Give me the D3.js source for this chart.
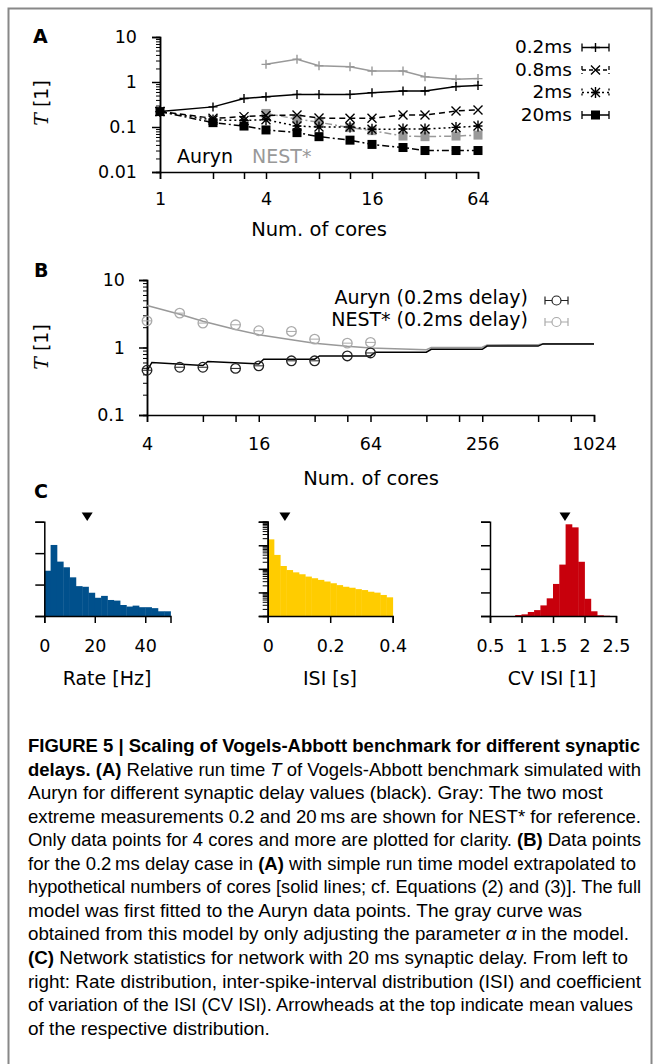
<!DOCTYPE html>
<html>
<head>
<meta charset="utf-8">
<script src="https://cdn.jsdelivr.net/npm/d3@7"></script>
<style>
  body { margin: 0; background: #fff; }
  svg text { font-family: "DejaVu Sans", sans-serif; }
</style>
</head>
<body>
<svg id="fig" width="660" height="1064"></svg>
<script>
// ---- panel A: relative run time vs cores, different delays ----
const coresA = [1, 2, 3, 4, 6, 8, 12, 16, 24, 32, 48, 64];
const auryn02 = [0.22, 0.28, 0.43, 0.47, 0.53, 0.53, 0.53, 0.58, 0.63, 0.63, 0.79, 0.84];
const auryn08 = [0.22, 0.156, 0.17, 0.18, 0.185, 0.158, 0.156, 0.156, 0.185, 0.185, 0.227, 0.24];
const auryn2 = [0.22, 0.143, 0.14, 0.145, 0.105, 0.10, 0.10, 0.089, 0.09, 0.09, 0.098, 0.105];
const auryn20 = [0.22, 0.125, 0.105, 0.086, 0.075, 0.061, 0.051, 0.041, 0.035, 0.030, 0.030, 0.030];
const coresNest = [4, 6, 8, 12, 16, 24, 32, 48, 64];
const nest02 = [2.47, 3.2, 2.3, 2.19, 1.76, 1.76, 1.31, 1.15, 1.19];
const nest20 = [0.20, 0.15, 0.127, 0.097, 0.083, 0.063, 0.061, 0.063, 0.066];
const delayLabels = ["0.2ms", "0.8ms", "2ms", "20ms"];
const ticksA = [1, 2, 3, 4, 8, 12, 16, 32, 48, 64];
const labelsA = [1, 4, 16, 64];

// ---- panel B: 0.2ms data with run time model ----
const coresB = [4, 6, 8, 12, 16, 24, 32, 48, 64];
const aurynB = [0.46, 0.51, 0.51, 0.49, 0.535, 0.635, 0.635, 0.75, 0.83];
const nestB = [2.48, 3.23, 2.3, 2.17, 1.77, 1.73, 1.33, 1.16, 1.19];
const aurynModel = [[4, 0.45], [4.25, 0.6], [8, 0.54], [8.5, 0.62], [16, 0.57], [17, 0.67], [32, 0.67],
  [34, 0.75], [64, 0.75], [68, 0.85], [128, 0.85], [136, 0.94], [256, 0.94], [272, 1.05],
  [512, 1.05], [544, 1.13], [1024, 1.13]];
const nestModel = [[4, 4.2], [6, 3.1], [8, 2.45], [12, 1.85], [16, 1.55], [24, 1.3], [32, 1.16],
  [48, 1.04], [64, 0.98], [128, 0.93], [136, 1.0], [256, 1.01], [272, 1.09], [512, 1.1],
  [544, 1.14], [1024, 1.14]];
const ticksB = [4, 8, 12, 16, 32, 48, 64, 128, 192, 256, 512, 768, 1024];
const labelsB = [4, 16, 64, 256, 1024];
const legendB = ["Auryn (0.2ms delay)", "NEST* (0.2ms delay)"];

// ---- panel C: network statistics (20 ms delay) ----
const rateBins = [0, 2.5, 5, 7.5, 10, 12.5, 15, 17.5, 20, 22.5, 25, 27.5, 30, 32.5, 35, 37.5, 40, 42.5, 45, 47.5];
const rateCounts = [1.44, 2.26, 1.73, 1.55, 1.23, 0.95, 0.93, 0.74, 0.58, 0.64, 0.51, 0.49, 0.35, 0.30, 0.33, 0.28, 0.28, 0.25, 0.15, 0.15];
const isiBins = [0, 0.02, 0.04, 0.06, 0.08, 0.1, 0.12, 0.14, 0.16, 0.18, 0.2, 0.22, 0.24, 0.26, 0.28, 0.3, 0.32, 0.34, 0.36, 0.38];
const isiCounts = [1780, 390, 132, 89, 71, 59, 47, 40, 34, 29, 24.5, 20.4, 17.4, 15.8, 13.8, 12.6, 10.7, 9.8, 7.8, 6.2];
const cvBins = [0.5, 0.6, 0.7, 0.8, 0.9, 1.0, 1.1, 1.2, 1.3, 1.4, 1.5, 1.6, 1.7, 1.8, 1.9, 2.0, 2.1, 2.2, 2.3, 2.4];
const cvCounts = [0, 0, 0, 0, 0.04, 0.07, 0.17, 0.25, 0.45, 0.75, 1.36, 2.18, 3.89, 3.76, 2.30, 0.73, 0.20, 0.03, 0.01, 0];
const means = [17, 0.055, 1.69];

// ---- caption (one entry per printed line) ----
const caption = [
  [["FIGURE 5 | Scaling of Vogels-Abbott benchmark for different synaptic", "b"]],
  [["delays. (A)", "b"], [" Relative run time ", ""], ["T", "i"], [" of Vogels-Abbott benchmark simulated with", ""]],
  [["Auryn for different synaptic delay values (black). Gray: The two most", ""]],
  [["extreme measurements 0.2 and 20\u2009ms are shown for NEST* for reference.", ""]],
  [["Only data points for 4 cores and more are plotted for clarity. ", ""], ["(B)", "b"], [" Data points", ""]],
  [["for the 0.2\u2009ms delay case in ", ""], ["(A)", "b"], [" with simple run time model extrapolated to", ""]],
  [["hypothetical numbers of cores [solid lines; cf. Equations (2) and (3)]. The full", ""]],
  [["model was first fitted to the Auryn data points. The gray curve was", ""]],
  [["obtained from this model by only adjusting the parameter ", ""], ["\u03b1", "i"], [" in the model.", ""]],
  [["(C)", "b"], [" Network statistics for network with 20 ms synaptic delay. From left to", ""]],
  [["right: Rate distribution, inter-spike-interval distribution (ISI) and coefficient", ""]],
  [["of variation of the ISI (CV ISI). Arrowheads at the top indicate mean values", ""]],
  [["of the respective distribution.", ""]]
];
// printed length of the caption lines that are fitted to the margin (0 = natural)
const captionFit = [612, 613, 0, 613, 613, 608, 613, 0, 601, 600, 613, 605, 0];

const svg = d3.select("#fig");
const gray = "#999";

svg.append("rect")
  .attr("x", 8.5).attr("y", 8.5)
  .attr("width", 643).attr("height", 1090)
  .attr("fill", "none").attr("stroke", "#888").attr("stroke-width", 2);

function logTicks(lo, hi) {
  const t = [];
  for (let e = lo; e < hi; e++) for (let k = 1; k < 10; k++) t.push(+(k * Math.pow(10, e)).toPrecision(3));
  t.push(Math.pow(10, hi));
  return t;
}

function styleAxis(g, fs) {
  g.attr("font-family", "DejaVu Sans").attr("font-size", fs);
  g.select(".domain").attr("stroke", "#000").attr("stroke-width", 1.5);
  g.selectAll(".tick line").attr("stroke", "#000").attr("stroke-width", 1.5);
  g.selectAll(".tick text").attr("fill", "#000");
}

function yLabel(x, y) {
  const t = svg.append("text")
    .attr("transform", `translate(${x},${y}) rotate(-90)`)
    .attr("text-anchor", "middle")
    .attr("font-size", 19);
  t.append("tspan").attr("font-family", "DejaVu Serif").attr("font-style", "italic").text("T");
  t.append("tspan").text(" [1]");
}

function panelLetter(s, x, y) {
  svg.append("text").attr("x", x).attr("y", y)
    .attr("font-family", "Liberation Sans").attr("font-weight", "bold").attr("font-size", 19)
    .text(s);
}

// marker shapes
function marker(g, kind, x, y, color) {
  const s = 4.5;
  if (kind === "plus") {
    g.append("path").attr("d", `M${x - s},${y}H${x + s}M${x},${y - s}V${y + s}`)
      .attr("stroke", color).attr("stroke-width", 1.4);
  } else if (kind === "cross") {
    g.append("path").attr("d", `M${x - s},${y - s}L${x + s},${y + s}M${x - s},${y + s}L${x + s},${y - s}`)
      .attr("stroke", color).attr("stroke-width", 1.4);
  } else if (kind === "star") {
    g.append("path").attr("d", `M${x - s},${y - s}L${x + s},${y + s}M${x - s},${y + s}L${x + s},${y - s}M${x},${y - s - 1}V${y + s + 1}M${x - s},${y}H${x + s}`)
      .attr("stroke", color).attr("stroke-width", 1.4);
  } else if (kind === "square") {
    g.append("rect").attr("x", x - 4.5).attr("y", y - 4.5).attr("width", 9).attr("height", 9)
      .attr("fill", color);
  }
}

// ================= Panel A =================
const xA = d3.scaleLog().base(2).domain([1, 64]).range([160, 478]);
const yA = d3.scaleLog().domain([0.01, 10]).range([172, 37]);

panelLetter("A", 33, 43);

svg.append("g").attr("transform", "translate(160,0)")
  .call(d3.axisLeft(yA).tickValues(logTicks(-2, 1)).tickSize(4).tickFormat(""))
  .call(g => { styleAxis(g, 17); g.selectAll(".tick line").attr("stroke-width", 1); });
svg.append("g").attr("transform", "translate(160,0)")
  .call(d3.axisLeft(yA).tickValues([0.01, 0.1, 1, 10]).tickSize(8).tickPadding(15).tickFormat(d => String(d)))
  .call(g => styleAxis(g, 17.5));
svg.append("g").attr("transform", "translate(0,172)")
  .call(d3.axisBottom(xA).tickValues(ticksA).tickSize(7).tickPadding(14)
    .tickFormat(d => labelsA.includes(d) ? d : ""))
  .call(g => styleAxis(g, 17.5));

yLabel(48, 103);
svg.append("text").attr("x", 319).attr("y", 236).attr("text-anchor", "middle")
  .attr("font-size", 19.5).text("Num. of cores");

const lineA = d3.line().x(d => xA(d[0])).y(d => yA(d[1]));
const seriesA = [
  { x: coresNest, y: nest02, color: gray, dash: null, m: "plus" },
  { x: coresNest, y: nest20, color: gray, dash: "7,3,2,3", m: "square" },
  { x: coresA, y: auryn02, color: "#000", dash: null, m: "plus" },
  { x: coresA, y: auryn08, color: "#000", dash: "6,4", m: "cross" },
  { x: coresA, y: auryn2, color: "#000", dash: "2,3", m: "star" },
  { x: coresA, y: auryn20, color: "#000", dash: "7,3,2,3", m: "square" }
];
const gA = svg.append("g");
seriesA.forEach(s => {
  const pts = s.x.map((c, i) => [c, s.y[i]]);
  gA.append("path").attr("d", lineA(pts)).attr("fill", "none")
    .attr("stroke", s.color).attr("stroke-width", 1.5)
    .attr("stroke-dasharray", s.dash);
  pts.forEach(p => marker(gA, s.m, xA(p[0]), yA(p[1]), s.color));
});

svg.append("text").attr("x", 177).attr("y", 163).attr("font-size", 19).text("Auryn");
svg.append("text").attr("x", 252).attr("y", 163).attr("font-size", 19).attr("fill", gray).text("NEST*");

// legend A
const legKinds = [["plus", null], ["cross", "4,3"], ["star", "2,3"], ["square", null]];
delayLabels.forEach((lab, i) => {
  const yb = 53 + i * 22.5;
  svg.append("text").attr("x", 572).attr("y", yb).attr("text-anchor", "end")
    .attr("font-size", 18.5).text(lab);
  const ym = yb - 5.5;
  svg.append("path").attr("d", `M582,${ym}H609M582,${ym - 4}V${ym + 4}M609,${ym - 4}V${ym + 4}`)
    .attr("stroke", "#000").attr("stroke-width", 1.3).attr("fill", "none")
    .attr("stroke-dasharray", legKinds[i][1]);
  marker(svg, legKinds[i][0], 595.5, ym, "#000");
});

// ================= Panel B =================
const xB = d3.scaleLog().base(2).domain([4, 1024]).range([147, 594]);
const yB = d3.scaleLog().domain([0.1, 10]).range([415, 280]);

panelLetter("B", 34, 277);

svg.append("g").attr("transform", "translate(147,0)")
  .call(d3.axisLeft(yB).tickValues(logTicks(-1, 1)).tickSize(4).tickFormat(""))
  .call(g => { styleAxis(g, 17); g.selectAll(".tick line").attr("stroke-width", 1); });
svg.append("g").attr("transform", "translate(147,0)")
  .call(d3.axisLeft(yB).tickValues([0.1, 1, 10]).tickSize(8).tickPadding(14).tickFormat(d => String(d)))
  .call(g => styleAxis(g, 17.5));
svg.append("g").attr("transform", "translate(0,415)")
  .call(d3.axisBottom(xB).tickValues(ticksB).tickSize(7).tickPadding(16)
    .tickFormat(d => labelsB.includes(d) ? d : ""))
  .call(g => styleAxis(g, 17.5));

yLabel(48, 347);
svg.append("text").attr("x", 371).attr("y", 485).attr("text-anchor", "middle")
  .attr("font-size", 19.5).text("Num. of cores");

const lineB = d3.line().x(d => xB(d[0])).y(d => yB(d[1]));
svg.append("path").attr("d", lineB(nestModel)).attr("fill", "none")
  .attr("stroke", gray).attr("stroke-width", 1.5);
svg.append("path").attr("d", lineB(aurynModel)).attr("fill", "none")
  .attr("stroke", "#000").attr("stroke-width", 1.5);

function circleMark(g, x, y, color) {
  g.append("circle").attr("cx", x).attr("cy", y).attr("r", 4.8)
    .attr("fill", "none").attr("stroke", color).attr("stroke-width", 1.3);
  g.append("path").attr("d", `M${x - 4.8},${y}H${x + 4.8}`)
    .attr("stroke", color).attr("stroke-width", 1);
}
const gB = svg.append("g");
coresB.forEach((c, i) => circleMark(gB, xB(c), yB(nestB[i]), "#aaa"));
coresB.forEach((c, i) => circleMark(gB, xB(c), yB(aurynB[i]), "#222"));

legendB.forEach((lab, i) => {
  const yb = 304 + i * 21.5;
  const col = i === 0 ? "#222" : "#aaa";
  svg.append("text").attr("x", 528).attr("y", yb).attr("text-anchor", "end")
    .attr("font-size", 19).text(lab);
  const ym = yb - 3.5;
  svg.append("path").attr("d", `M545,${ym}H568M545,${ym - 4}V${ym + 4}M568,${ym - 4}V${ym + 4}`)
    .attr("stroke", col).attr("stroke-width", 1.2).attr("fill", "none");
  svg.append("circle").attr("cx", 556.5).attr("cy", ym).attr("r", 4.5)
    .attr("fill", "#fff").attr("stroke", col).attr("stroke-width", 1.2);
});

// ================= Panel C =================
panelLetter("C", 34, 498);

const hists = [
  { bins: rateBins, counts: rateCounts, w: 2.5, dom: [0, 50], rng: [44.3, 170.5], color: "#00508c",
    y: d3.scaleLinear().domain([0, 3]).range([616, 521.7]), yt: [0, 1, 2, 3], xt: [0, 20, 40],
    title: "Rate [Hz]", tx: 107 },
  { bins: isiBins, counts: isiCounts, w: 0.02, dom: [0, 0.4], rng: [267.7, 392.7], color: "#ffcc00",
    y: d3.scaleLog().domain([1, 1e4]).range([616, 521.7]), yt: [1, 10, 100, 1000, 10000], xt: [0, 0.2, 0.4],
    title: "ISI [s]", tx: 330, log: true },
  { bins: cvBins, counts: cvCounts, w: 0.1, dom: [0.5, 2.5], rng: [490, 616], color: "#c8000c",
    y: d3.scaleLinear().domain([0, 4]).range([616, 521.7]), yt: [0, 1, 2, 3, 4], xt: [0.5, 1, 1.5, 2, 2.5],
    title: "CV ISI [1]", tx: 552 }
];

hists.forEach((h, k) => {
  const x = d3.scaleLinear().domain(h.dom).range(h.rng);
  const g = svg.append("g");
  const base = h.y.range()[0];
  const cells = h.bins.map((b, i) => ({ b, c: h.counts[i] })).filter(d => d.c > 0);
  g.selectAll("rect").data(cells)
    .join("rect")
    .attr("x", d => x(d.b))
    .attr("width", d => x(d.b + h.w) - x(d.b) + 0.4)
    .attr("y", d => h.y(d.c))
    .attr("height", d => base - h.y(d.c))
    .attr("fill", h.color);

  if (h.log) {
    svg.append("g").attr("transform", `translate(${h.rng[0]},0)`)
      .call(d3.axisLeft(h.y).tickValues(logTicks(0, 4)).tickSize(5).tickFormat(""))
      .call(gg => { styleAxis(gg, 17); gg.selectAll(".tick line").attr("stroke-width", 1); });
  }
  svg.append("g").attr("transform", `translate(${h.rng[0]},0)`)
    .call(d3.axisLeft(h.y).tickValues(h.yt).tickSize(9).tickFormat(""))
    .call(gg => styleAxis(gg, 17));
  svg.append("g").attr("transform", "translate(0,616)")
    .call(d3.axisBottom(x).tickValues(h.xt).tickSize(7).tickPadding(17).tickFormat(d => d))
    .call(gg => styleAxis(gg, 17.5));

  // mean arrowhead
  const mx = x(means[k]);
  svg.append("path").attr("d", `M${mx - 5.5},512.5L${mx + 5.5},512.5L${mx},521Z`).attr("fill", "#000");

  svg.append("text").attr("x", h.tx).attr("y", 685).attr("text-anchor", "middle")
    .attr("font-size", 19).text(h.title);
});

// ================= Caption =================
const cap = svg.append("g");
const capWidth = 613;
caption.forEach((line, i) => {
  const t = cap.append("text").attr("x", 28).attr("y", 752 + i * 23.55)
    .style("font-family", "'Liberation Sans', Arial, sans-serif")
    .attr("font-size", 19);
  line.forEach(seg => {
    const sp = t.append("tspan").text(seg[0]);
    if (seg[1] === "b") sp.attr("font-weight", "bold");
    if (seg[1] === "i") sp.attr("font-style", "italic");
  });
  const natural = t.node().getComputedTextLength();
  const fit = captionFit[i] || (natural > capWidth ? capWidth : 0);
  if (fit) t.attr("textLength", fit).attr("lengthAdjust", "spacingAndGlyphs");
});
</script>
</body>
</html>
